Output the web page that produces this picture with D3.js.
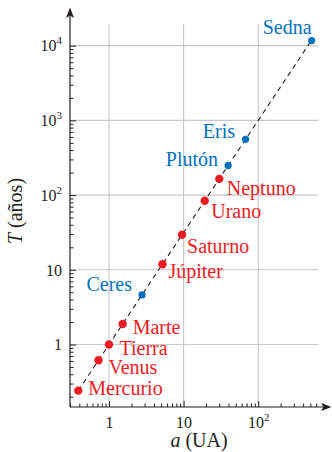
<!DOCTYPE html>
<html><head><meta charset="utf-8">
<script src="https://cdn.jsdelivr.net/npm/d3@7"></script>
<style>body{margin:0;background:#fff}svg{display:block}</style>
</head><body><svg id="c" width="332" height="452"></svg>
<script>
// ---- data ----
const planetNames = ["Mercurio","Venus","Tierra","Marte","Júpiter","Saturno","Urano","Neptuno"];
const planetA = [0.387,0.723,1,1.524,5.203,9.537,19.19,30.07];
const planetT = [0.241,0.615,1,1.881,11.86,29.46,84.01,164.8];
const dwarfNames = ["Ceres","Plutón","Eris","Sedna"];
const dwarfA = [2.77,39.48,67.7,520];
const dwarfT = [4.6,248,557,11700];
const xTickValues = [1,10,100];
const xTickBase = ["1","10","10"];
const xTickExp = ["","","2"];
const yTickValues = [1,10,100,1000,10000];
const yTickBase = ["1","10","10","10","10"];
const yTickExp = ["","","2","3","4"];
const fitRange = [0.387, 520]; // extent of the T = a^1.5 line

// ---- layout / style ----
const FONT = "'Liberation Serif', 'DejaVu Serif', serif";
const RED = "#ed1c24", BLUE = "#0072bc", INK = "#231f20", GRID = "#c8c8c8";
const labelPos = {
  "Mercurio":[10,4,"start"], "Venus":[10,14,"start"], "Tierra":[10.5,10.5,"start"],
  "Marte":[10,10.5,"start"], "Júpiter":[6,14,"start"], "Saturno":[5,18.5,"start"],
  "Urano":[6.5,17.5,"start"], "Neptuno":[7.5,16,"start"],
  "Ceres":[-10,-4,"end"], "Plutón":[-10,0,"end"], "Eris":[-10.5,-1,"end"], "Sedna":[0,-7,"end"]
};

const svg = d3.select("#c");
const L = 70, R = 318, T = 24, B = 407;
const x = d3.scaleLog().domain([0.3, 633]).range([L, R]);
const y = d3.scaleLog().domain([0.1456, 19500]).range([B, T]);

// grid
svg.append("g").selectAll("line").data(xTickValues).join("line")
  .attr("x1", d => x(d)).attr("x2", d => x(d)).attr("y1", T).attr("y2", B)
  .attr("stroke", GRID).attr("stroke-width", 1.1);
svg.append("g").selectAll("line").data(yTickValues).join("line")
  .attr("y1", d => y(d)).attr("y2", d => y(d)).attr("x1", L).attr("x2", R)
  .attr("stroke", GRID).attr("stroke-width", 1.1);

// minor tick values
function minors(scale) {
  const [d0, d1] = scale.domain(); const out = [];
  for (let e = Math.floor(Math.log10(d0)); e <= Math.ceil(Math.log10(d1)); e++)
    for (let m = 2; m <= 9; m++) { const v = m * Math.pow(10, e); if (v > d0 && v < d1) out.push(v); }
  return out;
}

// axes
const gx = svg.append("g").attr("transform", `translate(0,${B})`);
gx.call(d3.axisBottom(x).tickValues(minors(x)).tickSize(-3.5).tickSizeOuter(0).tickFormat(""));
const gxM = svg.append("g").attr("transform", `translate(0,${B})`);
gxM.call(d3.axisBottom(x).tickValues(xTickValues).tickSize(-6).tickSizeOuter(0));
const gy = svg.append("g").attr("transform", `translate(${L},0)`);
gy.call(d3.axisLeft(y).tickValues(minors(y)).tickSize(-3.5).tickSizeOuter(0).tickFormat(""));
const gyM = svg.append("g").attr("transform", `translate(${L},0)`);
gyM.call(d3.axisLeft(y).tickValues(yTickValues).tickSize(-6).tickSizeOuter(0));
svg.selectAll(".domain").remove();
svg.selectAll(".tick line").attr("stroke", INK).attr("stroke-width", 1);

gxM.selectAll(".tick text").each(function(d, i) {
  const t = d3.select(this).text(null).attr("y", 21).attr("dy", 0)
    .attr("font-family", FONT).attr("font-size", 16).attr("fill", INK).attr("text-anchor", "middle");
  t.append("tspan").text(xTickBase[i]);
  if (xTickExp[i]) t.append("tspan").attr("dy", -7).attr("font-size", 11).text(xTickExp[i]);
});
gyM.selectAll(".tick text").each(function(d, i) {
  const t = d3.select(this).text(null).attr("x", -8).attr("dy", "0.33em")
    .attr("font-family", FONT).attr("font-size", 16).attr("fill", INK).attr("text-anchor", "end");
  t.append("tspan").text(yTickBase[i]);
  if (yTickExp[i]) t.append("tspan").attr("dy", -7).attr("font-size", 11).text(yTickExp[i]);
});

// axis lines with arrows
svg.append("line").attr("x1", L).attr("x2", 327).attr("y1", B).attr("y2", B).attr("stroke", INK).attr("stroke-width", 1.2);
svg.append("line").attr("x1", L).attr("x2", L).attr("y1", B).attr("y2", 12).attr("stroke", INK).attr("stroke-width", 1.2);
svg.append("path").attr("d", `M331.5,${B} L321,${B-4} L323.5,${B} L321,${B+4} Z`).attr("fill", INK);
svg.append("path").attr("d", `M${L},7.5 L${L-4},18 L${L},15.5 L${L+4},18 Z`).attr("fill", INK);

// fit line T = a^1.5
svg.append("line")
  .attr("x1", x(fitRange[0])).attr("y1", y(Math.pow(fitRange[0], 1.5)))
  .attr("x2", x(fitRange[1])).attr("y2", y(Math.pow(fitRange[1], 1.5)))
  .attr("stroke", INK).attr("stroke-width", 1.1).attr("stroke-dasharray", "5,4");

// points
const planets = planetNames.map((n, i) => ({n, a: planetA[i], t: planetT[i], c: RED, r: 4.2}));
const dwarfs = dwarfNames.map((n, i) => ({n, a: dwarfA[i], t: dwarfT[i], c: BLUE, r: 3.6}));
const all = planets.concat(dwarfs);
svg.append("g").selectAll("circle").data(all).join("circle")
  .attr("cx", d => x(d.a)).attr("cy", d => y(d.t)).attr("r", d => d.r).attr("fill", d => d.c);
svg.append("g").selectAll("text").data(all).join("text")
  .attr("x", d => x(d.a) + labelPos[d.n][0]).attr("y", d => y(d.t) + labelPos[d.n][1])
  .attr("text-anchor", d => labelPos[d.n][2])
  .attr("font-family", FONT).attr("font-size", 20).attr("fill", d => d.c).text(d => d.n);

// axis titles
const xt = svg.append("text").attr("x", 199).attr("y", 447).attr("text-anchor", "middle")
  .attr("font-family", FONT).attr("font-size", 20).attr("fill", INK);
xt.append("tspan").attr("font-style", "italic").text("a");
xt.append("tspan").text(" (UA)");
const yt = svg.append("text").attr("transform", "translate(22,211) rotate(-90)").attr("text-anchor", "middle")
  .attr("font-family", FONT).attr("font-size", 20).attr("fill", INK);
yt.append("tspan").attr("font-style", "italic").text("T");
yt.append("tspan").text(" (años)");
</script></body></html>
